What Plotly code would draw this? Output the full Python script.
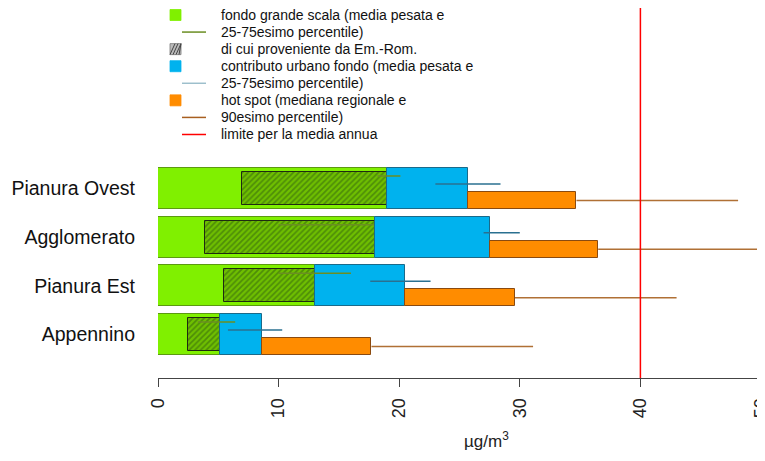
import plotly.graph_objects as go

# ---------------- data ----------------
categories = ["Appennino", "Pianura Est", "Agglomerato", "Pianura Ovest"]
positions = [1, 2, 3, 4]

green_mean = [5.1, 13.0, 18.0, 19.0]        # fondo grande scala (media pesata)
green_p25 = [3.3, 10.0, 10.0, 18.2]
green_p75 = [6.4, 16.0, 17.9, 20.1]
emrom_start = [2.5, 5.5, 3.9, 7.0]          # di cui proveniente da Em.-Rom. (start of hatched part)
blue_total = [8.6, 20.5, 27.5, 25.7]        # + contributo urbano fondo
blue_p25 = [5.8, 17.6, 27.0, 23.0]
blue_p75 = [10.3, 22.6, 30.0, 28.4]
orange_total = [17.7, 29.6, 36.5, 34.7]     # + hot spot (mediana regionale)
orange_p90 = [31.1, 43.0, 49.9, 48.1]
LIMIT = 40

xticks = [0, 10, 20, 30, 40, 50]

legend_items = [
    ("box", "#80F000", "fondo grande scala (media pesata e"),
    ("line", "#6B8E23", "25-75esimo percentile)"),
    ("hatch", "#bbbbbb", "di cui proveniente da Em.-Rom."),
    ("box", "#00B2EE", "contributo urbano fondo (media pesata e"),
    ("line", "#9DBFCC", "25-75esimo percentile)"),
    ("box", "#FF8C00", "hot spot (mediana regionale e"),
    ("line", "#A85F20", "90esimo percentile)"),
    ("line", "#FF0000", "limite per la media annua"),
]

FONT = "Liberation Sans, Arial, sans-serif"
OFF = 8  # page body margin offset
W, H = 765 - OFF, 461 - OFF
ML, MR, MT = 158 - OFF, 0, 0
PLOT_BOTTOM = 378 - OFF
MB = H - PLOT_BOTTOM
PW = W - ML - MR
PH = H - MT - MB
XMAX = PW / 12.06
YTOP = 4 + (188.5 - OFF) / 48.67
YBOT = 4 - (PLOT_BOTTOM - (188.5 - OFF)) / 48.67

fig = go.Figure()

# green bar
fig.add_trace(go.Bar(
    y=positions, x=green_mean, base=[0] * 4, orientation="h", width=0.84,
    marker=dict(color="#80F000", line=dict(color="#5C9A10", width=1)),
    showlegend=False, hoverinfo="skip"))
# hatched part
fig.add_trace(go.Bar(
    y=positions, x=[g - s for g, s in zip(green_mean, emrom_start)], base=emrom_start,
    orientation="h", width=0.68,
    marker=dict(color="#80F000", line=dict(color="#1f2a10", width=1),
                pattern=dict(shape="/", fgcolor="#2E5A10", bgcolor="#6FC000", size=4, solidity=0.45)),
    showlegend=False, hoverinfo="skip"))
# blue bar
fig.add_trace(go.Bar(
    y=positions, x=[b - g for b, g in zip(blue_total, green_mean)], base=green_mean,
    orientation="h", width=0.84,
    marker=dict(color="#00B2EE", line=dict(color="#1A6A8A", width=1)),
    showlegend=False, hoverinfo="skip"))
# orange bar
fig.add_trace(go.Bar(
    y=[p - 0.246 for p in positions], x=[o - b for o, b in zip(orange_total, blue_total)],
    base=blue_total, orientation="h", width=0.35,
    marker=dict(color="#FF8C00", line=dict(color="#8A4A10", width=1)),
    showlegend=False, hoverinfo="skip"))


def seg(x0s, x1s, ys):
    xs, yy = [], []
    for a, b, y in zip(x0s, x1s, ys):
        xs += [a, b, None]
        yy += [y, y, None]
    return xs, yy


gx, gy = seg(green_p25, green_p75, [p + 0.257 for p in positions])
fig.add_trace(go.Scatter(x=gx, y=gy, mode="lines", line=dict(color="#6B8E23", width=1.5),
                         showlegend=False, hoverinfo="skip"))
bx, by = seg(blue_p25, blue_p75, [p + 0.092 for p in positions])
fig.add_trace(go.Scatter(x=bx, y=by, mode="lines", line=dict(color="#2A7090", width=1.5),
                         showlegend=False, hoverinfo="skip"))
ox, oy = seg(orange_total, orange_p90, [p - 0.246 for p in positions])
fig.add_trace(go.Scatter(x=ox, y=oy, mode="lines", line=dict(color="#B07035", width=1.5),
                         showlegend=False, hoverinfo="skip"))

shapes = [dict(type="line", xref="x", yref="paper", x0=LIMIT, x1=LIMIT, y0=0, y1=1,
               line=dict(color="#FF0000", width=1.5))]
annotations = []


def px2paper(px, py):
    # px, py are reference-image pixel coordinates
    fx, fy = px - OFF, py - OFF
    return (fx - ML) / PW, (PH + MT - fy) / PH


for i, (kind, col, txt) in enumerate(legend_items):
    cy = 15 + 17.07 * i
    if kind in ("box", "hatch"):
        x0, y0 = px2paper(170, cy - 5.5)
        x1, y1 = px2paper(181, cy + 5.5)
        shapes.append(dict(type="rect", xref="paper", yref="paper", x0=x0, x1=x1, y0=y0, y1=y1,
                           fillcolor=col, line=dict(color="#777777" if kind == "hatch" else col, width=0.8)))
        if kind == "hatch":
            for k in range(4):
                a0, b0 = px2paper(170 + 3 * k, cy + 5.5)
                a1, b1 = px2paper(170 + 3 * k + 5, cy - 5.5)
                a1 = min(a1, x1)
                shapes.append(dict(type="line", xref="paper", yref="paper", x0=a0, x1=a1, y0=b0, y1=b1,
                                   line=dict(color="#444444", width=1)))
    else:
        x0, y0 = px2paper(182, cy)
        x1, _ = px2paper(206, cy)
        shapes.append(dict(type="line", xref="paper", yref="paper", x0=x0, x1=x1, y0=y0, y1=y0,
                           line=dict(color=col, width=1.5)))
    tx, ty = px2paper(219, cy)
    annotations.append(dict(xref="paper", yref="paper", x=tx, y=ty, text=txt, showarrow=False,
                            xanchor="left", yanchor="middle",
                            font=dict(family=FONT, size=14, color="#111111")))

ax, ay = px2paper(487, 440)
annotations.append(dict(xref="paper", yref="paper", x=ax, y=ay, text="µg/m<sup>3</sup>", showarrow=False,
                        xanchor="center", yanchor="middle",
                        font=dict(family=FONT, size=17, color="#222222")))

fig.update_layout(
    width=W, height=H, margin=dict(l=ML, r=MR, t=MT, b=MB, pad=0, autoexpand=False),
    plot_bgcolor="white", paper_bgcolor="white", barmode="overlay", bargap=0,
    shapes=shapes, annotations=annotations, showlegend=False,
    xaxis=dict(range=[0, XMAX], tickvals=xticks, ticktext=[str(v) for v in xticks],
               tickangle=-90, ticks="outside", ticklen=8, tickcolor="#444444", automargin=False,
               ticklabelstandoff=4, ticklabeloverflow="allow",
               showline=True, linecolor="#444444", linewidth=1, showgrid=False, zeroline=False,
               tickfont=dict(family=FONT, size=18, color="#222222")),
    yaxis=dict(range=[YBOT, YTOP], tickvals=positions, ticktext=categories, ticks="",
               showline=False, showgrid=False, zeroline=False, ticklabelstandoff=22, automargin=False,
               tickfont=dict(family=FONT, size=19.5, color="#111111")),
)

fig.write_html("out.html")
